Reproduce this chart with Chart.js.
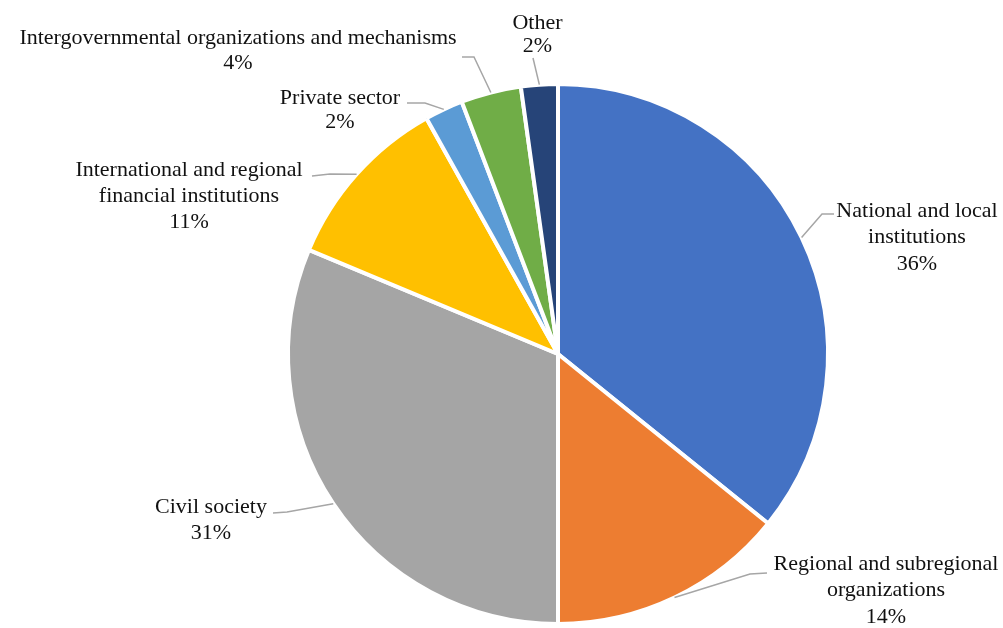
<!DOCTYPE html>
<html>
<head>
<meta charset="utf-8">
<script src="https://cdn.jsdelivr.net/npm/chart.js@4/dist/chart.umd.min.js"></script>
<style>
  html, body { margin: 0; padding: 0; background: #fff; }
  #wrap { width: 1003px; height: 628px; position: relative; }
</style>
</head>
<body>
<div id="wrap"><canvas id="chart"></canvas></div>
<script>
// categories, shares (%) and displayed percentages
const categories = [
  ["National and local", "institutions"],
  ["Regional and subregional", "organizations"],
  ["Civil society"],
  ["International and regional", "financial institutions"],
  ["Private sector"],
  ["Intergovernmental organizations and mechanisms"],
  ["Other"]
];
const shares = [35.8, 14.2, 31.3, 10.6, 2.3, 3.6, 2.2];
const shownPct = ["36%", "14%", "31%", "11%", "2%", "4%", "2%"];
const colors = ["#4472C4", "#ED7D31", "#A5A5A5", "#FFC000", "#5B9BD5", "#70AD47", "#264478"];

// label layout: text centre x, first line y, leader elbow and end points
const labelLayout = [
  { tx: 917, ty: 211, gap: 26.5, elbow: [822, 214], end: [834, 214] },
  { tx: 886, ty: 564, gap: 26.5, elbow: [750, 574], end: [767, 573] },
  { tx: 211, ty: 507, gap: 26, elbow: [287, 512], end: [273, 513] },
  { tx: 189, ty: 170.5, gap: 26, elbow: [330, 174], end: [312, 176] },
  { tx: 340, ty: 98, gap: 24, elbow: [425, 103], end: [407, 103] },
  { tx: 238, ty: 38, gap: 25, elbow: [474, 57], end: [462, 57] },
  { tx: 537.5, ty: 23, gap: 23.5, elbow: [533, 58], end: [533, 58] }
];

const labelPlugin = {
  id: "pieLabels",
  afterDatasetsDraw(chart) {
    const ctx = chart.ctx;
    const arcs = chart.getDatasetMeta(0).data;
    ctx.save();
    arcs.forEach((arc, i) => {
      const p = arc.getProps(["x", "y", "startAngle", "endAngle", "outerRadius"], true);
      const mid = (p.startAngle + p.endAngle) / 2;
      const sx = p.x + Math.cos(mid) * p.outerRadius;
      const sy = p.y + Math.sin(mid) * p.outerRadius;
      const L = labelLayout[i];
      ctx.strokeStyle = "#A6A6A6";
      ctx.lineWidth = 1.5;
      ctx.beginPath();
      ctx.moveTo(sx, sy);
      ctx.lineTo(L.elbow[0], L.elbow[1]);
      ctx.lineTo(L.end[0], L.end[1]);
      ctx.stroke();

      ctx.fillStyle = "#111";
      ctx.font = "22px 'Liberation Serif', 'Times New Roman', serif";
      ctx.textAlign = "center";
      ctx.textBaseline = "middle";
      const lines = categories[i].concat([shownPct[i]]);
      lines.forEach((t, j) => ctx.fillText(t, L.tx, L.ty + j * L.gap));
    });
    ctx.restore();
  }
};

new Chart(document.getElementById("chart"), {
  type: "pie",
  data: {
    labels: categories.map((c) => c.join(" ")),
    datasets: [
      {
        data: shares,
        backgroundColor: colors,
        borderColor: "#fff",
        borderWidth: 4,
        hoverOffset: 0
      }
    ]
  },
  options: {
    responsive: true,
    maintainAspectRatio: false,
    animation: false,
    layout: { padding: { left: 286, right: 173, top: 82, bottom: 2 } },
    plugins: {
      legend: { display: false },
      tooltip: { enabled: false }
    }
  },
  plugins: [labelPlugin]
});
</script>
</body>
</html>
